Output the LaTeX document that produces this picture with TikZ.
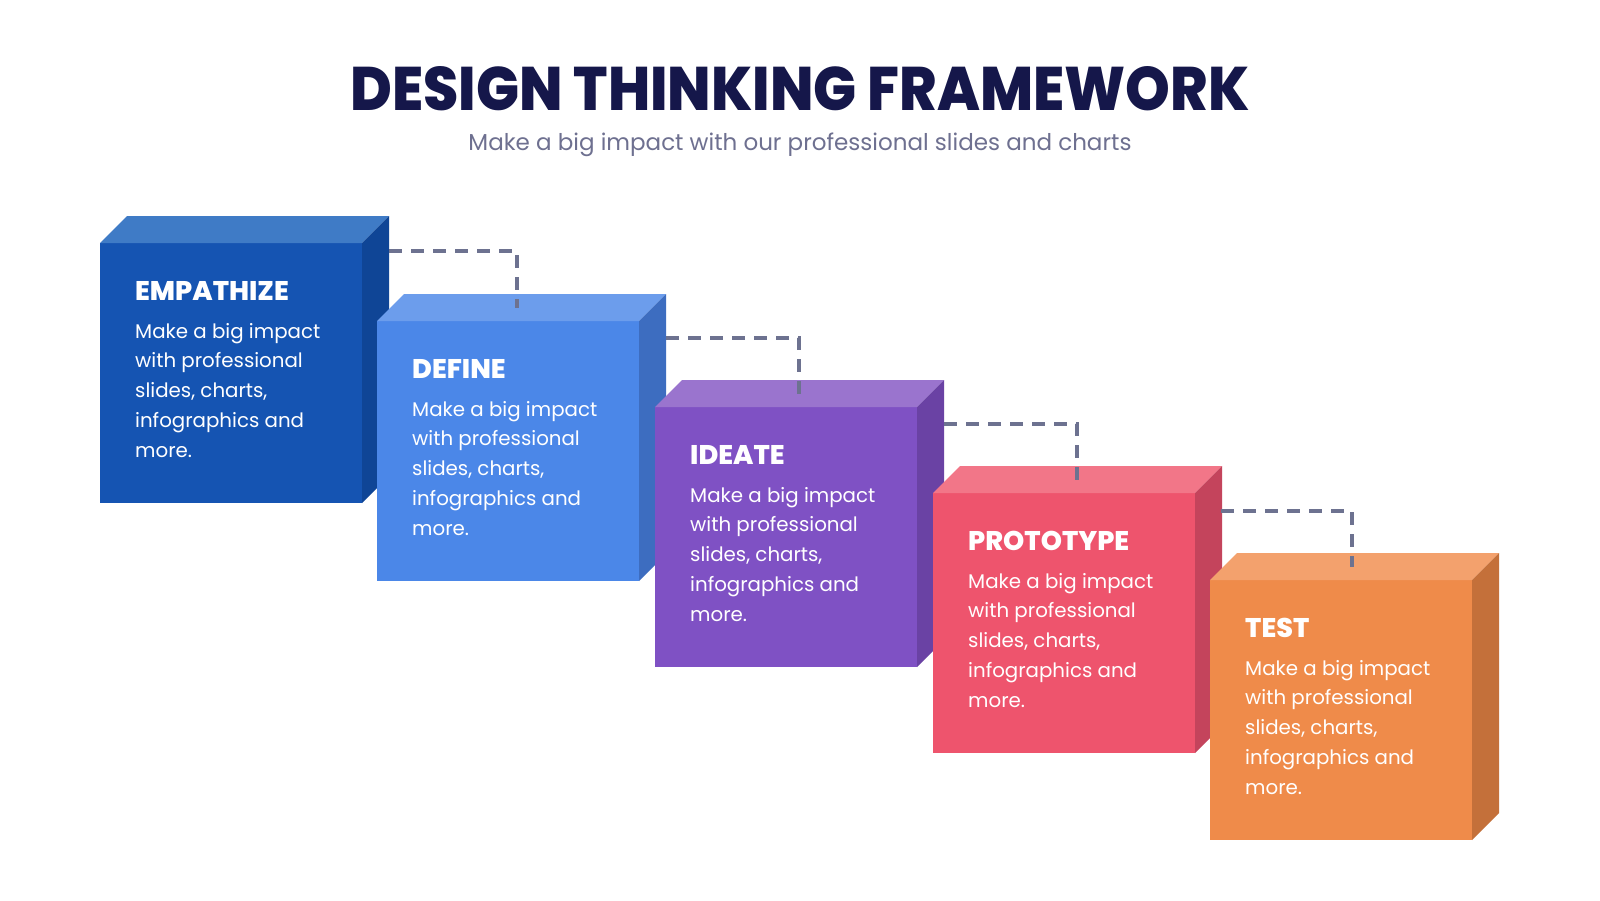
\documentclass[tikz,border=0pt]{standalone}
\usepackage{fontspec}
\setmainfont{Poppins}
\IfFontExistsTF{Poppins ExtraBold}{\newfontfamily\titlefont{Poppins ExtraBold}}{\newfontfamily\titlefont{Poppins}[UprightFont=* Bold]}
\usetikzlibrary{calc}
\definecolor{titlec}{HTML}{15174A}
\definecolor{subc}{HTML}{6E7090}
\definecolor{connc}{HTML}{6D7290}
\definecolor{aF}{HTML}{1554B2}\definecolor{aT}{HTML}{3F7BC6}\definecolor{aS}{HTML}{0F4596}
\definecolor{bF}{HTML}{4B87E8}\definecolor{bT}{HTML}{6C9DEC}\definecolor{bS}{HTML}{3D6DC0}
\definecolor{cF}{HTML}{7F51C4}\definecolor{cT}{HTML}{9A74CE}\definecolor{cS}{HTML}{6A42A4}
\definecolor{dF}{HTML}{EE546D}\definecolor{dT}{HTML}{F27688}\definecolor{dS}{HTML}{C4445C}
\definecolor{eF}{HTML}{EF8B4A}\definecolor{eT}{HTML}{F3A16D}\definecolor{eS}{HTML}{C4703A}
\newcommand\mkcube[6]{%
  \node[face,fill=#4] (#1) at (#2,#3) {};
  \fill[#5] (#1.north west) -- ++(27,-27) -- ($(#1.north east)+(27,-27)$) -- (#1.north east) -- cycle;
  \fill[#6] (#1.north east) -- ++(27,-27) -- ($(#1.south east)+(27,-27)$) -- (#1.south east) -- cycle;
}
\newcommand\bodytext{\parbox[t]{230pt}{\raggedright Make a big impact\\with professional\\slides, charts,\\infographics and\\more.}}
\begin{document}
\begin{tikzpicture}[x=1pt,y=-1pt,
  face/.style={draw=none,inner sep=0pt,outer sep=0pt,anchor=north west,minimum width=262pt,minimum height=260pt},
  head/.style={anchor=base west,inner sep=0pt,text=white,font=\fontsize{27}{30}\selectfont\titlefont},
  body/.style={anchor=base west,inner sep=0pt,text=white,font=\fontsize{19.8}{29.9}\selectfont},
  conn/.style={draw=connc,line width=3.5pt,dash pattern=on 13pt off 9pt}]
\path[use as bounding box,fill=white] (0,0) rectangle (1600,900);
% title
\node[anchor=base,inner sep=0pt,text=titlec] (title) at (800,110) {\resizebox{899pt}{44pt}{\titlefont DESIGN THINKING FRAMEWORK}};
\node[anchor=base,inner sep=0pt,text=subc] (sub) at (800,150) {\resizebox{663pt}{!}{\fontsize{27}{30}\selectfont Make a big impact with our professional slides and charts}};
% cubes
\mkcube{b1}{100}{243}{aF}{aT}{aS}
\mkcube{b2}{377}{321}{bF}{bT}{bS}
\mkcube{b3}{655}{407}{cF}{cT}{cS}
\mkcube{b4}{933}{493}{dF}{dT}{dS}
\mkcube{b5}{1210}{580}{eF}{eT}{eS}
% texts
\foreach \b/\h in {b1/EMPATHIZE,b2/DEFINE,b3/IDEATE,b4/PROTOTYPE,b5/TEST}{
  \node[head] (\b h) at ($(\b.north west)+(35,57)$) {\h};
  \node[body] (\b t) at ($(\b.north west)+(35,95)$) {\bodytext};
}
% connectors
\coordinate (s1) at (389,251);
\coordinate (s2) at (666,338);
\coordinate (s3) at (944,424);
\coordinate (s4) at (1221,511);
\coordinate (e1) at ($(b2.north)+(9,-13.5)$);
\coordinate (e2) at ($(b3.north)+(13,-13.5)$);
\coordinate (e3) at ($(b4.north)+(13,-13.5)$);
\coordinate (e4) at ($(b5.north)+(11,-13.5)$);
\foreach \i in {1,2,3,4}{\draw[conn] (s\i) -| (e\i);}
\end{tikzpicture}
\end{document}
